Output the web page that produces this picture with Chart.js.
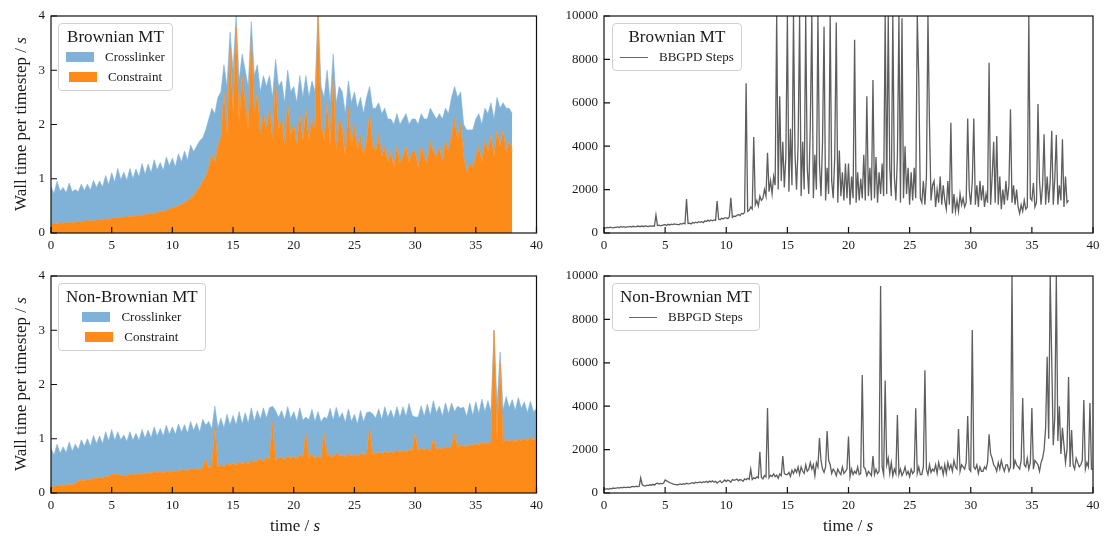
<!DOCTYPE html>
<html>
<head>
<meta charset="utf-8">
<script src="https://cdn.jsdelivr.net/npm/chart.js@4.4.1/dist/chart.umd.min.js"></script>
<style>
body{margin:0;background:#fff;width:1114px;height:537px;position:relative;overflow:hidden;font-family:'Liberation Serif','Times New Roman',serif;color:#1a1a1a}
canvas{position:absolute}
.leg{position:absolute;background:rgba(255,255,255,0.85);border:1px solid #d0d0d0;border-radius:4px;padding:3px 7px;box-sizing:border-box}
.lt{font-size:17px;line-height:20px;text-align:center;white-space:nowrap}
.row{font-size:13px;line-height:20px;display:flex;align-items:center;justify-content:center;white-space:nowrap}
.patch{width:28px;height:10px;margin-right:11px}
.ln{width:28px;height:0;border-top:1.2px solid #666;margin-right:11px}
.ylab{position:absolute;font-size:17px;white-space:nowrap;transform:translate(-50%,-50%) rotate(-90deg)}
.xlab{position:absolute;font-size:17px;white-space:nowrap;transform:translate(-50%,-50%)}
</style>
</head>
<body>
<canvas id="tl" width="548" height="262" style="left:0;top:0"></canvas>
<canvas id="tr" width="566" height="262" style="left:548px;top:0"></canvas>
<canvas id="bl" width="548" height="262" style="left:0;top:262px"></canvas>
<canvas id="br" width="566" height="262" style="left:548px;top:262px"></canvas>

<div class="leg" style="left:58px;top:23px">
  <div class="lt">Brownian MT</div>
  <div class="row"><span class="patch" style="background:#80b2d8"></span>Crosslinker</div>
  <div class="row"><span class="patch" style="background:#fd8b19"></span>Constraint</div>
</div>
<div class="leg" style="left:612px;top:23px">
  <div class="lt">Brownian MT</div>
  <div class="row"><span class="ln"></span>BBGPD Steps</div>
</div>
<div class="leg" style="left:58px;top:283px">
  <div class="lt">Non-Brownian MT</div>
  <div class="row"><span class="patch" style="background:#80b2d8"></span>Crosslinker</div>
  <div class="row"><span class="patch" style="background:#fd8b19"></span>Constraint</div>
</div>
<div class="leg" style="left:612px;top:283px">
  <div class="lt">Non-Brownian MT</div>
  <div class="row"><span class="ln"></span>BBPGD Steps</div>
</div>

<div class="ylab" style="left:21px;top:124px">Wall time per timestep / <i>s</i></div>
<div class="ylab" style="left:21px;top:384px">Wall time per timestep / <i>s</i></div>
<div class="xlab" style="left:295px;top:526px">time / <i>s</i></div>
<div class="xlab" style="left:848px;top:526px">time / <i>s</i></div>

<script>
// time samples: areas every 0.25 s, step counts every 0.125 s
const timesTop = Array.from({length: 153}, (_, i) => i * 0.25);   // 0 .. 38
const timesBot = Array.from({length: 161}, (_, i) => i * 0.25);   // 0 .. 40
const stepTimesTop = Array.from({length: 305}, (_, i) => i * 0.125); // 0 .. 38
const stepTimesBot = Array.from({length: 321}, (_, i) => i * 0.125); // 0 .. 40

// Brownian MT: wall time per step (s)
const constraintTop = [
  .17,.18,.17,.19, .18,.19,.2,.19, .2,.21,.2,.22, .22,.23,.22,.24,
  .24,.25,.26,.25, .27,.28,.29,.28, .3,.29,.31,.3, .32,.31,.33,.34,
  .35,.36,.35,.38, .4,.39,.42,.44, .46,.48,.5,.53, .56,.6,.64,.7,
  .78,.85,.95,1.05, 1.2,1.45,1.3,1.6, 1.75,2.6,1.8,3.4, 2.2,3.8,2.0,2.9,
  2.4,1.9,3.6,2.2, 2.6,1.8,2.2,1.9, 2.3,1.7,2.8,1.9, 2.1,1.6,2.4,1.8,
  2.0,1.6,2.2,1.7, 2.3,1.7,2.1,1.9, 4.0,2.0,1.7,2.4, 1.6,2.9,1.5,2.1,
  1.9,1.4,2.3,1.6, 2.0,1.5,1.8,1.4, 1.7,2.2,1.6,1.5, 1.8,1.4,1.6,1.3,
  1.5,1.2,1.6,1.3, 1.4,1.6,1.3,1.5, 1.5,1.2,1.6,1.4, 1.3,1.7,1.5,1.4,
  1.6,1.3,1.7,1.5, 1.8,2.1,1.7,2.0, 1.4,1.1,1.3,1.2, 1.4,1.6,1.3,1.7,
  1.5,1.8,1.4,1.9, 1.6,1.9,1.5,1.7, 1.5
];
const crosslinkerTop = [
  .68,.55,.78,.58, .66,.55,.72,.57, .6,.55,.7,.56, .68,.56,.75,.6,
  .72,.6,.8,.64, .84,.66,.9,.7, .82,.68,.88,.7, .86,.72,.95,.74,
  .92,.75,1.0,.78, .9,.76,.98,.8, .92,.74,.96,.78, .95,.74,.98,.8,
  .82,.85,.8,.85, .9,.85,.9,.9, .85,.5,.9,.3, .8,.2,.8,.4,
  .6,.8,.3,.7, .5,.8,.7,.8, .6,.8,.4,.8, .7,.8,.6,.8,
  .7,.8,.7,.8, .6,.8,.7,.7, .1,.7,.8,.6, .8,.4,.9,.6,
  .7,.8,.5,.8, .6,.8,.7,.8, .8,.5,.7,.8, .6,.8,.7,.8,
  .6,.8,.6,.7, .7,.6,.7,.6, .6,.8,.6,.7, .8,.6,.7,.7,
  .6,.8,.6,.7, .7,.6,.8,.6, .6,.8,.6,.7, .7,.6,.7,.6,
  .7,.6,.7,.6, .7,.5,.8,.6, .7
];
const stepsTop = [
  250,230,260,240,270,250,240,260,  260,280,250,300,270,290,260,280,
  280,300,270,310,290,280,320,300,  300,320,290,340,310,300,330,320,
  330,310,830,340,360,330,350,370,  380,350,400,370,410,390,420,400,
  400,380,430,410,450,420,1560,440,  450,420,480,460,500,470,520,490,
  520,480,560,530,590,540,600,560,  600,580,1470,640,610,680,650,700,
  700,660,740,1620,720,780,760,820,  850,800,900,880,950,6900,1000,1050,
  1200,1100,4420,1300,1500,1250,1700,1500,  1600,2000,1700,3700,1900,2400,1800,2600,
  2200,10000,2000,6300,2400,4200,2100,3500,  10000,1900,4800,2200,10000,3600,2000,4000,
  10000,1700,4200,2000,10000,3000,1800,5000,  10000,1600,3600,2000,10000,3200,1700,4200,
  9500,1500,3000,1800,10000,2400,1600,3500,  9700,1400,3800,1700,2800,1500,3200,1600,
  3200,1300,2600,1600,8900,1400,2800,1500,  2500,1600,3600,1500,6300,1700,3000,1500,
  7050,1600,3500,1400,2800,1800,3200,1700,  10000,1800,10000,3000,1700,10000,2600,1500,
  3500,10000,1400,9900,1600,4000,1800,3000,  1300,2800,1500,3000,1600,10000,7100,1600,
  1400,2400,1300,2600,10000,4980,1500,2200,  2400,1200,2000,1400,2600,1300,2200,1500,
  1100,2400,1300,5080,900,1800,1000,1500,  1000,1800,1300,1600,1200,1400,5280,2000,
  1300,2400,5280,1300,2200,1200,2400,1500,  2200,1200,1800,1400,7850,1300,2600,4200,
  1400,4470,1300,2600,1100,2000,1300,2400,  1500,2200,5700,1400,2200,1300,2000,1200,
  900,1300,1000,1500,1100,1200,10000,1600,  1500,2300,1200,1400,5940,2400,1300,2200,
  4550,1300,2600,1400,2400,4710,1300,2500,  4520,1300,2200,1500,4320,1200,2600,1400,
  1500
];

// Non-Brownian MT
const constraintBot = [
  .1,.12,.14,.13, .15,.14,.16,.15, .18,.22,.24,.22, .26,.24,.28,.27,
  .29,.27,.31,.3, .37,.33,.35,.32, .33,.31,.35,.33, .36,.34,.37,.35,
  .38,.36,.4,.37, .39,.37,.41,.38, .4,.42,.39,.44, .42,.4,.46,.43,
  .45,.42,.48,.62, .46,.5,1.2,.48, .52,.48,.55,.51, .55,.51,.58,.53,
  .58,.54,.61,.56, .6,.64,.57,.66, .62,1.3,.6,.65, .66,.61,.69,.63,
  .68,.62,.71,.66, 1.1,.65,.7,.64, .68,.63,1.1,.69, .7,.66,.74,.68,
  .7,.66,.73,.68, .71,.67,.74,.69, .72,1.2,.7,.74, .75,.71,.77,.73,
  .77,.73,.79,.75, .79,.75,.81,.77, 1.1,.78,.83,.79, .82,.77,1.0,.8,
  .84,.8,.86,.82, .86,1.1,.84,.88, .88,.85,.9,.87, .92,.88,.95,.9,
  .94,.9,3.0,.96, 2.4,.92,.98,.95, .98,.94,1.0,.96, 1.0,.96,1.03,.98,
  1.0
];
const crosslinkerBot = [
  .72,.58,.76,.6, .7,.6,.78,.62, .72,.58,.74,.64, .74,.62,.78,.64,
  .76,.64,.82,.66, .8,.64,.78,.66, .74,.64,.78,.64, .74,.63,.8,.66,
  .78,.66,.82,.68, .8,.68,.84,.7, .82,.66,.88,.68, .84,.7,.86,.72,
  .84,.7,.88,.63, .86,.68,.4,.72, .86,.72,.9,.74, .88,.74,.92,.74,
  .9,.74,.96,.76, .92,.72,1.0,.72, .95,.3,.92,.74, .86,.74,.9,.74,
  .82,.7,.86,.68, .3,.7,.84,.68, .82,.68,.3,.68, .86,.68,.84,.7,
  .78,.64,.82,.64, .74,.6,.78,.62, .76,.3,.76,.64, .8,.64,.82,.66,
  .76,.64,.8,.64, .8,.66,.84,.66, .3,.62,.78,.62, .82,.66,.7,.68,
  .76,.62,.8,.64, .8,.4,.76,.68, .7,.56,.76,.56, .76,.58,.78,.6,
  .76,.6,0,.64, .2,.6,.8,.62, .74,.58,.76,.6, .68,.52,.66,.52,
  .55
];
const stepsBot = [
  160,180,200,170,210,190,230,210,  220,250,230,260,240,270,250,260,
  270,250,290,300,280,310,290,300,  700,380,340,320,360,340,380,360,
  400,360,430,450,410,440,420,460,  600,560,520,480,450,420,400,390,
  380,400,420,390,430,400,450,420,  430,460,480,440,500,470,490,510,
  470,520,490,540,480,550,510,560,  500,540,460,520,560,480,530,600,
  530,600,560,500,620,580,600,640,  560,620,600,540,650,610,680,630,
  1100,620,700,660,740,700,1900,720,  650,800,740,3920,700,820,760,880,
  750,820,680,880,800,1700,900,850,  850,950,760,1050,900,1100,950,1200,
  850,1200,1000,900,1300,1000,1100,1400,  1100,1300,800,1400,1200,2530,1500,1100,
  950,1200,2860,1500,1300,900,1100,1000,  800,1100,950,850,1200,900,1000,1100,
  2600,750,1100,850,1000,900,1200,850,  900,5440,1200,1100,800,1000,900,800,
  1700,850,1100,900,1000,9540,1200,850,  5180,1300,1600,900,1400,800,1100,900,
  3590,850,1100,800,950,1200,850,1000,  750,1100,900,1000,3900,900,1200,850,
  850,1200,5660,1100,850,1300,950,1100,  1000,1300,900,1400,1100,1200,850,1300,
  900,1400,1100,1300,1000,1500,1200,1100,  2950,1000,1300,1200,1100,1400,3550,1100,
  1000,7510,1200,1100,1300,900,1200,1000,  1000,1200,1100,1400,2700,1800,1600,1300,
  1200,1000,1400,1100,1500,1200,1000,1300,  1300,1000,1200,10000,1100,1500,1300,1200,
  1100,1500,4380,1300,1200,1600,1100,1400,  3920,1100,1500,1400,1300,1000,1400,1600,
  2000,3000,6280,2500,10000,6100,2200,3500,  10000,2400,4000,1800,3000,2200,1400,2000,
  5350,1200,2900,1300,1100,1600,1400,1200,  1300,1500,4290,1100,1400,1200,4150,1100,
  1100
];

const xTicks = [0, 5, 10, 15, 20, 25, 30, 35, 40];
const blue = '#80b2d8';
const orange = '#fd8b19';
const grey = '#5e5e5e';

Chart.defaults.font.family = "'Liberation Serif', 'Times New Roman', serif";
Chart.defaults.font.size = 13;
Chart.defaults.color = '#1a1a1a';

// black frame + inward tick marks
const frameTicks = {
  id: 'frameTicks',
  afterDraw(chart) {
    const {ctx, chartArea: a, scales} = chart;
    ctx.save();
    ctx.strokeStyle = '#111';
    ctx.lineWidth = 1.2;
    ctx.strokeRect(a.left, a.top, a.right - a.left, a.bottom - a.top);
    ctx.beginPath();
    scales.x.ticks.forEach(t => {
      const px = scales.x.getPixelForValue(t.value);
      ctx.moveTo(px, a.bottom); ctx.lineTo(px, a.bottom - 6);
    });
    scales.y.ticks.forEach(t => {
      const py = scales.y.getPixelForValue(t.value);
      ctx.moveTo(a.left, py); ctx.lineTo(a.left + 6, py);
    });
    ctx.stroke();
    ctx.restore();
  }
};

const pts = (xs, ys) => ys.map((y, i) => ({x: xs[i], y: y}));

function scalesFor(yMax, yStep, yWidth, xHeight, stacked) {
  return {
    x: {
      type: 'linear', min: 0, max: 40,
      grid: {display: false, drawTicks: false},
      border: {display: false},
      afterBuildTicks: s => { s.ticks = xTicks.map(v => ({value: v})); },
      ticks: {padding: 5, maxRotation: 0, autoSkip: false, callback: v => String(v)},
      afterFit: s => { s.height = xHeight; }
    },
    y: {
      min: 0, max: yMax, stacked: stacked,
      grid: {display: false, drawTicks: false},
      border: {display: false},
      ticks: {stepSize: yStep, padding: 6, callback: v => String(v)},
      afterFit: s => { s.width = yWidth; }
    }
  };
}

function areaChart(id, times, con, xl, padTop) {
  new Chart(document.getElementById(id), {
    type: 'line',
    data: {
      datasets: [
        {label: 'Constraint', data: pts(times, con), backgroundColor: orange, borderColor: orange,
         borderWidth: 0.6, pointRadius: 0, fill: 'origin', tension: 0},
        {label: 'Crosslinker', data: pts(times, xl), backgroundColor: blue, borderColor: blue,
         borderWidth: 0.6, pointRadius: 0, fill: '-1', tension: 0}
      ]
    },
    options: {
      responsive: false, animation: false, devicePixelRatio: 1,
      layout: {padding: {top: padTop, right: 9, left: 0, bottom: 0}},
      plugins: {legend: {display: false}, tooltip: {enabled: false}},
      scales: scalesFor(4, 1, 51, padTop === 16 ? 29 : 31, true)
    },
    plugins: [frameTicks]
  });
}

function stepsChart(id, times, steps, padTop) {
  new Chart(document.getElementById(id), {
    type: 'line',
    data: {
      datasets: [
        {label: 'Steps', data: pts(times, steps), borderColor: grey, borderWidth: 1.3,
         pointRadius: 0, fill: false, tension: 0}
      ]
    },
    options: {
      responsive: false, animation: false, devicePixelRatio: 1,
      layout: {padding: {top: padTop, right: 21, left: 0, bottom: 0}},
      plugins: {legend: {display: false}, tooltip: {enabled: false}},
      scales: scalesFor(10000, 2000, 56, padTop === 16 ? 29 : 31, false)
    },
    plugins: [frameTicks]
  });
}

areaChart('tl', timesTop, constraintTop, crosslinkerTop, 16);
stepsChart('tr', stepTimesTop, stepsTop, 16);
areaChart('bl', timesBot, constraintBot, crosslinkerBot, 14);
stepsChart('br', stepTimesBot, stepsBot, 14);
</script>
</body>
</html>
